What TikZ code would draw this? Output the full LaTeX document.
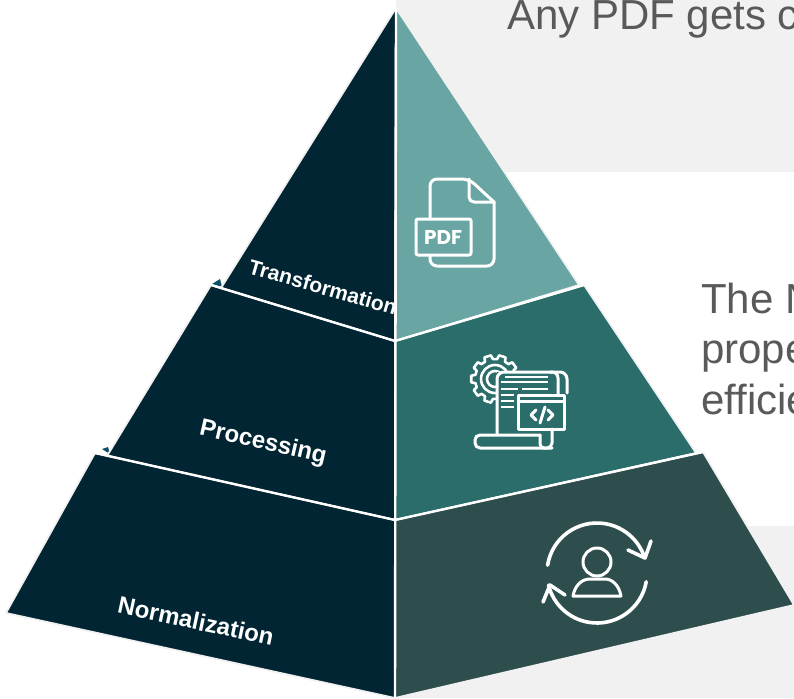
\documentclass[tikz,border=0pt]{standalone}
\usepackage{fontspec}
\setmainfont{Liberation Sans}
\newfontfamily\pdffont{Poppins}
\definecolor{navy}{HTML}{022533}
\definecolor{tealA}{HTML}{68A5A3}
\definecolor{tealB}{HTML}{2A6D6A}
\definecolor{tealC}{HTML}{2E4E4D}
\definecolor{paneGray}{HTML}{F1F1F1}
\definecolor{bodyGray}{HTML}{595959}
\definecolor{peekBlue}{HTML}{0E5068}
\tikzset{
  pyrface/.style={draw=paneGray,line width=1.8pt,line join=round},
  sepline/.style={draw=white,line width=2.4pt},
  tierlabel/.style={text=white,font=\bfseries\fontsize{24}{24}\selectfont,inner sep=0pt},
  bodytext/.style={text=bodyGray,font=\fontsize{42}{50}\selectfont,anchor=base west,inner sep=0pt},
  iconline/.style={draw=white,line width=3pt,line cap=round,line join=round}
}
\begin{document}
\begin{tikzpicture}[x=1pt,y=-1pt]

  \useasboundingbox (0,0) rectangle (794,698);
  \clip (0,0) rectangle (794,698);

  \coordinate (apex) at (396,8);
  \coordinate (ctrA) at (395,341);
  \coordinate (ctrB) at (395,520);
  \coordinate (ctrC) at (395,698);

  \fill[paneGray] (396,0) rectangle (794,172);
  \fill[paneGray] (396,526) rectangle (794,698);

  \node[bodytext] (anyline) at (507,30) {Any PDF gets c};
  \node[bodytext] (theline) at (701,313) {The N};
  \node[bodytext] (propline) at (701,363) {prope};
  \node[bodytext] (effline) at (701,414) {efficie};

  % small pieces showing behind the tiers
  \fill[peekBlue] (212,284) -- (220,279) -- (222,287) -- cycle;
  \fill[peekBlue] (102,449) -- (108,447) -- (110,454) -- cycle;

  % left side
  \draw[pyrface,fill=navy] (apex) -- (221,288) -- (ctrA) -- cycle;
  \draw[pyrface,fill=navy] (211,285) -- (ctrA) -- (ctrB) -- (107,456) -- cycle;
  \draw[pyrface,fill=navy] (95,453) -- (ctrB) -- (ctrC) -- (6,613) -- cycle;

  % right side
  \draw[pyrface,fill=tealA] (apex) -- (579,285) -- (ctrA) -- cycle;
  \draw[pyrface,fill=tealB] (584,285) -- (696,453) -- (ctrB) -- (ctrA) -- cycle;
  \draw[pyrface,fill=tealC] (703,452) -- (794,605) -- (ctrC) -- (ctrB) -- cycle;

  \draw[sepline] (211,285) -- (ctrA) -- (584,285);
  \draw[sepline] (95,453) -- (ctrB) -- (703,452);
  \draw[sepline] (apex) -- (ctrC);

  \node[tierlabel,font=\bfseries\fontsize{21}{21}\selectfont,rotate=-16] (trans) at (323,287) {Transformation};
  \node[tierlabel,rotate=-13] (proc) at (263,443) {Processing};
  \node[tierlabel,rotate=-12] (norm) at (196,621) {Normalization};

  % pdf icon
  \draw[iconline] (430,219) -- (430,186) [rounded corners=7pt] -- (430,179) -- (469,179)
    [sharp corners] -- (494,202) [rounded corners=7pt] -- (494,266) -- (430,266) [sharp corners] -- (430,255);
  \draw[iconline,rounded corners=5pt] (469,179) -- (469,202) -- (494,202);
  \draw[iconline,rounded corners=2pt] (416,219) rectangle (471,255);
  \node[text=white,inner sep=0pt,font=\pdffont\bfseries\fontsize{20}{20}\selectfont] (pdfword) at (443,237) {PDF};

  % code icon
  \begin{scope}[shift={(495,379)}]
    \foreach \a in {0,36,...,324}
      \draw[iconline,line width=2.6pt] (\a-12:20pt) -- (\a-8:24pt) -- (\a+8:24pt) -- (\a+12:20pt)
        arc[start angle=\a+12,end angle=\a+24,radius=20pt];
    \draw[iconline,line width=2.6pt] (0,0) circle[radius=14pt];
    \draw[iconline,line width=2.6pt] (0,0) circle[radius=8pt];
  \end{scope}
  \fill[tealB] (497,435) -- (497,372) -- (559,372) -- (559,395) -- (518,395) -- (518,435) -- cycle;
  \draw[iconline,rounded corners=7pt] (497,435) -- (497,372) -- (567,372) -- (567,393);
  \draw[iconline,rounded corners=6pt] (550,372) -- (558,372) -- (558,394);
  \draw[iconline] (518,395) rectangle (564,429);
  \draw[iconline] (518,401) -- (564,401);
  \foreach \yy/\xa/\xb in {377/505/548,382/501/548,389/501/518,389/522/548,395/501/514,401/501/514,407/501/514}
    \draw[iconline,line width=2.4pt,line cap=butt] (\xa,\yy) -- (\xb,\yy);
  \draw[iconline] (536,410) -- (531,415) -- (536,420);
  \draw[iconline] (548,410) -- (553,415) -- (548,420);
  \draw[iconline] (545,407) -- (540,423);
  \draw[iconline,rounded corners=5pt] (540,435) -- (475,435) -- (475,448) -- (552,448) -- (552,429);
  \draw[iconline,rounded corners=4pt] (540,435) -- (540,448) -- (552,448);

  % user refresh icon
  \begin{scope}[shift={(597,573)}]
    \draw[iconline,line width=3.6pt] (171:50pt) arc[start angle=171,end angle=18,radius=50pt];
    \draw[iconline,line width=3.6pt] (-10:50pt) arc[start angle=-10,end angle=-166,radius=50pt];
  \end{scope}
  \draw[iconline,line width=3.6pt] (628,550) -- (645,558) -- (651,541);
  \draw[iconline,line width=3.6pt] (565,595) -- (550,585) -- (543,602);
  \draw[iconline] (597,562) circle[radius=14pt];
  \draw[iconline] (573,596) -- (621,596) .. controls (619,585) and (612,579) .. (605,579)
    -- (590,579) .. controls (582,579) and (575,585) .. (573,596) -- cycle;

\end{tikzpicture}
\end{document}
